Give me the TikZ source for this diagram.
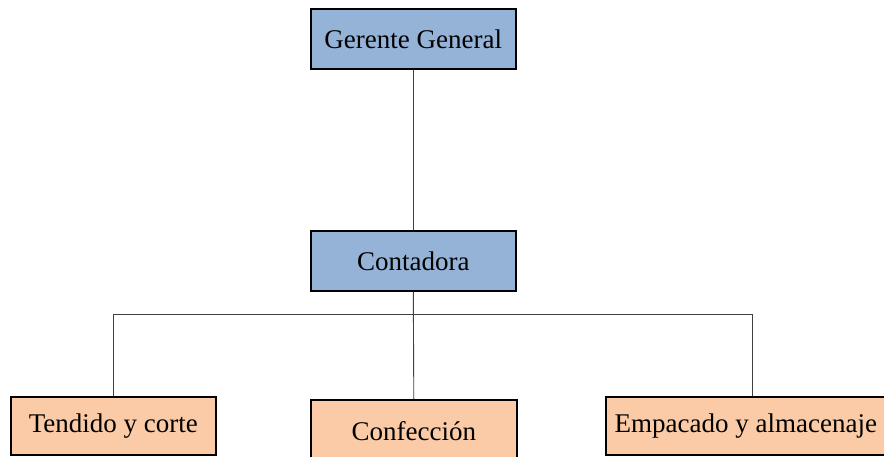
\documentclass[tikz,border=0pt]{standalone}
\usepackage{fontspec}
\setmainfont{Liberation Serif}
\definecolor{bluebox}{HTML}{95B3D7}
\definecolor{orangebox}{HTML}{FACBA6}
\definecolor{linegray}{HTML}{404040}
\begin{document}
\begin{tikzpicture}[x=1pt,y=-1pt,
  box/.style={draw=black,line width=1.6pt,inner sep=0pt,anchor=north west,font=\fontsize{27}{32}\selectfont},
  topbox/.style={box,fill=bluebox},
  lowbox/.style={box,fill=orangebox},
  conn/.style={draw=linegray,line width=0.9pt}]
\useasboundingbox (0,0) rectangle (884,456);
\clip (0,0) rectangle (884,456);
\node[topbox,minimum width=205pt,minimum height=60pt] (gg) at (310,8) {Gerente General};
\node[topbox,minimum width=205pt,minimum height=60pt] (co) at (310,230) {Contadora};
\node[lowbox,minimum width=205pt,minimum height=58pt] (tc) at (10,396) {Tendido y corte};
\node[lowbox,minimum width=206pt,minimum height=66pt,text depth=0pt] (cf) at (310,399) {\raisebox{4pt}{Confección}};
\node[lowbox,minimum width=280pt,minimum height=58pt] (ea) at (605,396) {Empacado y almacenaje};
\coordinate (bus) at (413,314);
\draw[conn] (gg.south) -- (co.north);
\draw[conn] (co.south) -- (cf.north);
\draw[conn] (tc.north -| 113,0) -- (113,314) -- (752,314) -- (ea.north -| 752,0);
\end{tikzpicture}
\end{document}
